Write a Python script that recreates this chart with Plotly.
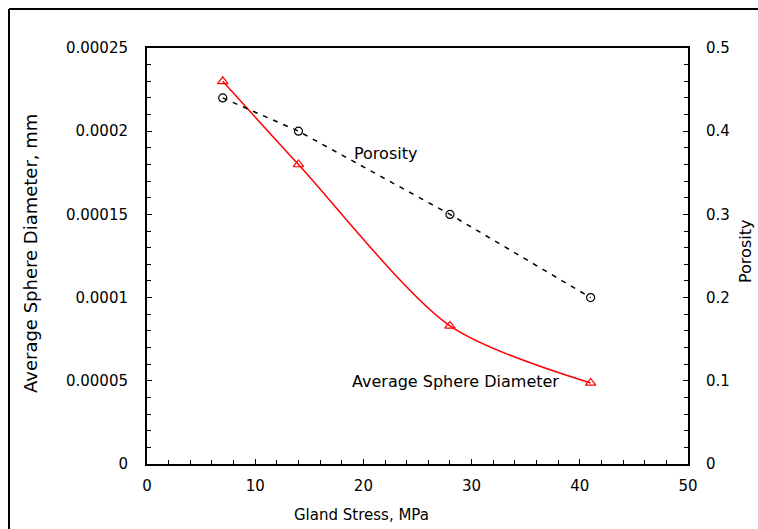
import plotly.graph_objects as go

# Data
gland_stress = [7, 14, 28, 41]
sphere_diameter = [0.000230, 0.000180, 0.0000830, 0.0000487]
porosity = [0.44, 0.40, 0.30, 0.20]

x_ticks = [0, 10, 20, 30, 40, 50]
y_ticks = [0, 0.00005, 0.0001, 0.00015, 0.0002, 0.00025]
y_tick_labels = ["0", "0.00005", "0.0001", "0.00015", "0.0002", "0.00025"]
y2_ticks = [0, 0.1, 0.2, 0.3, 0.4, 0.5]
y2_tick_labels = ["0", "0.1", "0.2", "0.3", "0.4", "0.5"]

FONT = "DejaVu Sans"
W, H = 758, 529
L, R, T, B = 147, 70, 48, 65

fig = go.Figure()
fig.add_trace(go.Scatter(
    x=gland_stress, y=sphere_diameter, mode="lines+markers",
    line=dict(color="#ff0000", width=1.5, shape="spline", smoothing=0.8),
    marker=dict(symbol="triangle-up-open", size=9, color="#ff0000", line=dict(width=1.2)),
    yaxis="y", showlegend=False))
fig.add_trace(go.Scatter(
    x=gland_stress, y=porosity, mode="lines+markers",
    line=dict(color="#000000", width=1.5, dash="5px,6px"),
    marker=dict(symbol="circle-open", size=8, color="#000000", line=dict(width=1.2)),
    yaxis="y2", showlegend=False))

axis_common = dict(showline=True, linecolor="black", linewidth=2, showgrid=False,
                   zeroline=False, ticks="inside", ticklen=5, tickcolor="black",
                   tickwidth=1, tickfont=dict(family=FONT, size=15, color="black"))

fig.update_layout(
    width=W, height=H, autosize=False,
    margin=dict(l=L, r=R, t=T, b=B, pad=0),
    paper_bgcolor="white", plot_bgcolor="white",
    font=dict(family=FONT, color="black"),
    xaxis=dict(range=[0, 50], tickvals=x_ticks, mirror=True,
               minor=dict(dtick=2, ticks="inside", ticklen=4, tickcolor="black"),
               ticklabelstandoff=7, **axis_common),
    yaxis=dict(range=[0, 0.00025], tickvals=y_ticks, ticktext=y_tick_labels, mirror=True,
               minor=dict(dtick=0.00001, ticks="inside", ticklen=4, tickcolor="black"),
               ticklabelstandoff=14, **axis_common),
    yaxis2=dict(range=[0, 0.5], tickvals=y2_ticks, ticktext=y2_tick_labels,
                overlaying="y", side="right",
                minor=dict(dtick=0.02, ticks="inside", ticklen=4, tickcolor="black"),
                ticklabelstandoff=13, **axis_common),
)

pw, ph = W - L - R, H - T - B
def px(xp):
    return (xp - L) / pw
def py(yp):
    return (H - B - yp) / ph

# Outer frame (top and left edges)
fig.add_shape(type="line", xref="paper", yref="paper", x0=px(9), x1=px(W + 5), y0=py(9), y1=py(9),
              line=dict(color="black", width=2))
fig.add_shape(type="line", xref="paper", yref="paper", x0=px(9), x1=px(9), y0=py(9), y1=py(H + 5),
              line=dict(color="black", width=2))

# Axis titles
fig.add_annotation(text="Gland Stress, MPa", xref="paper", yref="paper", x=px(361), y=py(515),
                   xanchor="center", yanchor="middle",
                   showarrow=False, font=dict(family=FONT, size=15, color="black"))
fig.add_annotation(text="Average Sphere Diameter, mm", xref="paper", yref="paper", x=px(30), y=py(254),
                   xanchor="center", yanchor="middle",
                   textangle=-90, showarrow=False, font=dict(family=FONT, size=18, color="black"))
fig.add_annotation(text="Porosity", xref="paper", yref="paper", x=px(745), y=py(252),
                   xanchor="center", yanchor="middle",
                   textangle=-90, showarrow=False, font=dict(family=FONT, size=16, color="black"))

# Series labels
fig.add_annotation(text="Porosity", xref="paper", yref="paper", x=px(352), y=py(153),
                   xanchor="left", yanchor="middle",
                   showarrow=False, font=dict(family=FONT, size=16, color="black"))
fig.add_annotation(text="Average Sphere Diameter", xref="paper", yref="paper", x=px(350), y=py(381),
                   xanchor="left", yanchor="middle",
                   showarrow=False, font=dict(family=FONT, size=16, color="black"))

fig.write_html("out.html", config={"displayModeBar": False},
               post_script="document.body.style.margin='0';document.body.style.overflow='hidden';")
